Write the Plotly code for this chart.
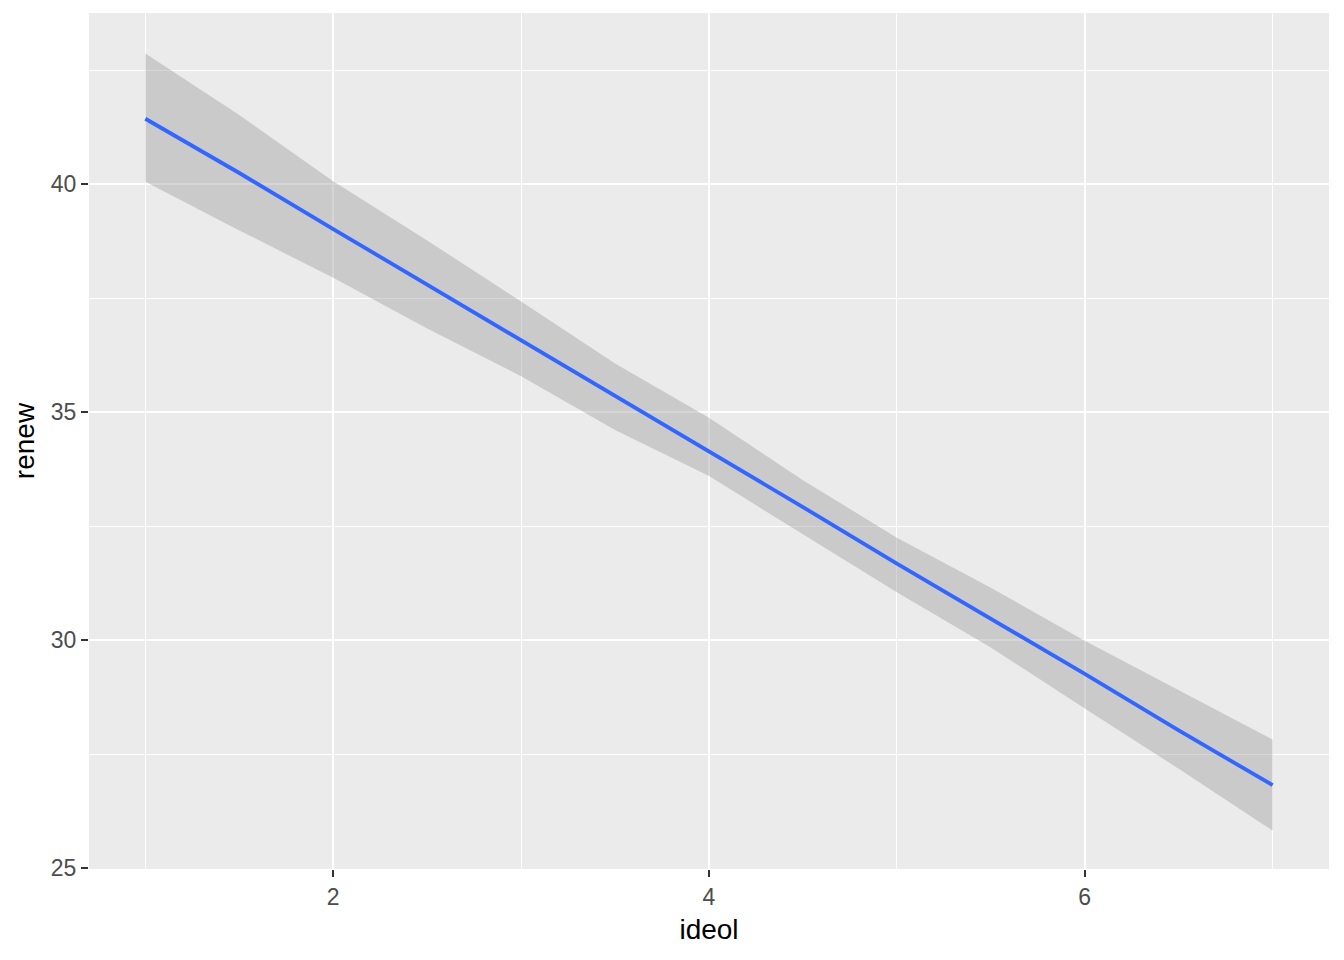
import plotly.graph_objects as go

# Data
ideol = [1, 1.5, 2, 2.5, 3, 3.5, 4, 4.5, 5, 5.5, 6, 6.5, 7]
fit = [41.44, 40.25, 39.02, 37.80, 36.58, 35.35, 34.15, 32.92, 31.68, 30.47, 29.26, 28.02, 26.82]
upper = [42.87, 41.52, 40.07, 38.77, 37.43, 36.07, 34.88, 33.51, 32.25, 31.15, 29.99, 28.91, 27.82]
lower = [40.06, 38.99, 37.95, 36.84, 35.79, 34.61, 33.60, 32.33, 31.05, 29.84, 28.50, 27.18, 25.82]

x_ticks = [2, 4, 6]
y_ticks = [25, 30, 35, 40]

FONT = "Liberation Sans, Arial, sans-serif"

fig = go.Figure()
fig.add_trace(go.Scatter(x=ideol + ideol[::-1], y=upper + lower[::-1],
                         fill="toself", fillcolor="rgba(153,153,153,0.4)",
                         line=dict(width=0), mode="lines", hoverinfo="skip",
                         showlegend=False))
fig.add_trace(go.Scatter(x=ideol, y=fit, mode="lines",
                         line=dict(color="#3366FF", width=3.8),
                         showlegend=False))

axis_common = dict(
    showgrid=True, gridcolor="white", gridwidth=2,
    zeroline=False, showline=False, automargin=False,
    ticks="outside", ticklen=7, tickwidth=2, tickcolor="#333333",
    tickfont=dict(family=FONT, size=23, color="#4D4D4D"),
)

fig.update_layout(
    width=1344, height=960,
    margin=dict(l=81, r=23, t=5, b=99),
    paper_bgcolor="white", plot_bgcolor="#EBEBEB",
    xaxis=dict(range=[0.7, 7.3], tickvals=x_ticks,
               minor=dict(dtick=1, tick0=1, showgrid=True, gridcolor="white", gridwidth=1, ticks=""),
               title=dict(text="ideol", font=dict(family=FONT, size=28, color="black"), standoff=10),
               **axis_common),
    yaxis=dict(range=[24.98, 43.76], tickvals=y_ticks,
               minor=dict(dtick=2.5, tick0=25, showgrid=True, gridcolor="white", gridwidth=1, ticks=""),
               title=dict(text="renew", font=dict(family=FONT, size=28, color="black"), standoff=8),
               **axis_common),
)

fig.write_html("out.html")
